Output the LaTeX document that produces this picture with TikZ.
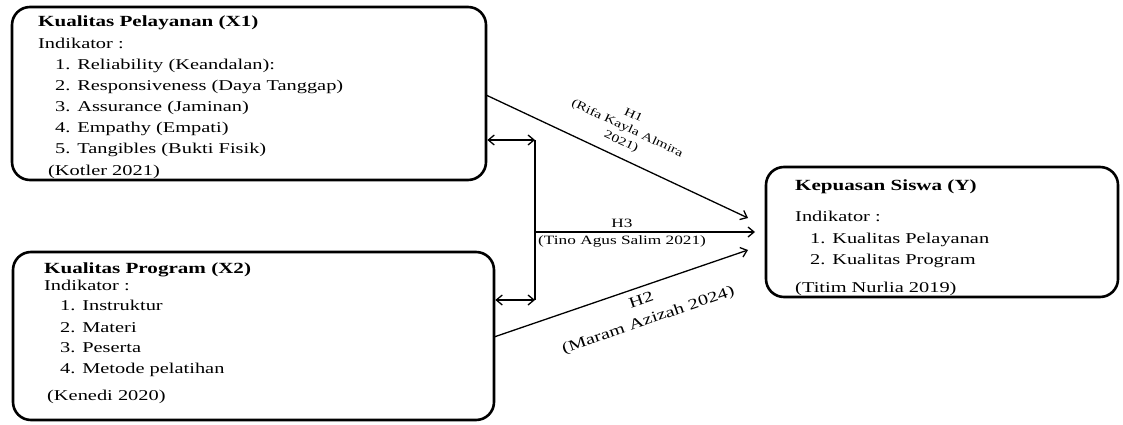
\documentclass[tikz,border=0pt]{standalone}
\usepackage{fontspec}
\setmainfont{Liberation Serif}[FakeStretch=1.36]
\usetikzlibrary{arrows.meta}
\begin{document}
\begin{tikzpicture}[x=1pt,y=-1pt,
 box/.style={draw, line width=2.6pt, rounded corners=18pt, inner sep=0pt},
 txt/.style={anchor=base west, inner sep=0pt, font=\fontsize{15}{18}\selectfont},
 ttl/.style={anchor=base west, inner sep=0pt, font=\fontsize{15.5}{18}\selectfont\bfseries},
 conn/.style={line width=1.3pt, -{Straight Barb[length=6pt,width=10pt]}},
 dbl/.style={line width=1.3pt, {Straight Barb[length=6pt,width=10pt]}-{Straight Barb[length=6pt,width=10pt]}},
 plain/.style={line width=1.3pt},
 lbl/.style={align=center, inner sep=0pt}]
\useasboundingbox (0,0) rectangle (1123,425);
% boxes
\node[box, minimum width=474pt, minimum height=173pt] (x1) at (249,93.5) {};
\node[box, minimum width=481pt, minimum height=168pt] (x2) at (253.5,336) {};
\node[box, minimum width=352pt, minimum height=130pt] (y) at (942,232) {};
% X1 text
\node[ttl] (x1t) at (38,27) {Kualitas Pelayanan (X1)};
\node[txt] (x1i) at (38,49) {Indikator :};
\node[txt] (x1a) at (55,70) {1. Reliability (Keandalan):};
\node[txt] (x1b) at (55,91) {2. Responsiveness (Daya Tanggap)};
\node[txt] (x1c) at (55,112) {3. Assurance (Jaminan)};
\node[txt] (x1d) at (55,132) {4. Empathy (Empati)};
\node[txt] (x1e) at (55,153) {5. Tangibles (Bukti Fisik)};
\node[txt] (x1r) at (48,175) {(Kotler 2021)};
% X2 text
\node[ttl] (x2t) at (44,273) {Kualitas Program (X2)};
\node[txt] (x2i) at (44,290) {Indikator :};
\node[txt] (x2a) at (60,310) {1. Instruktur};
\node[txt] (x2b) at (60,332) {2. Materi};
\node[txt] (x2c) at (60,352) {3. Peserta};
\node[txt] (x2d) at (60,373) {4. Metode pelatihan};
\node[txt] (x2r) at (47,400) {(Kenedi 2020)};
% Y text
\node[ttl] (yt) at (795,190) {Kepuasan Siswa (Y)};
\node[txt] (yi) at (795,221) {Indikator :};
\node[txt] (ya) at (810,243) {1. Kualitas Pelayanan};
\node[txt] (yb) at (810,264) {2. Kualitas Program};
\node[txt] (yr) at (795,292) {(Titim Nurlia 2019)};
% connectors
\coordinate (bt) at (535,140);
\coordinate (bb) at (535,300);
\coordinate (m) at (535,232);
\coordinate (s1) at (486,95);
\coordinate (e1) at (748,218);
\coordinate (e3) at (755,232);
\coordinate (s2) at (494,337);
\coordinate (e2) at (748,250);
\draw[dbl] (bt -| x1.east) -- (bt);
\draw[dbl] (bb -| x2.east) -- (bb);
\draw[plain] (bt) -- (bb);
\draw[conn] (s1) -- (e1);
\draw[conn] (m) -- (e3);
\draw[conn] (s2) -- (e2);
% labels
\node[lbl, rotate=-25, font=\fontsize{11.5}{14.5}\selectfont] (l1) at (627,129) {H1\\(Rifa Kayla Almira\\2021)};
\node[lbl, font=\fontsize{12.7}{15}\selectfont] (l3a) at (622,223) {H3};
\node[lbl, anchor=north west, font=\fontsize{12.7}{15}\selectfont] (l3b) at (538,235.5) {(Tino Agus Salim 2021)};
\node[lbl, rotate=19, font=\fontsize{15}{21}\selectfont] (l2) at (645,311) {H2\\(Maram Azizah 2024)};
\end{tikzpicture}
\end{document}
